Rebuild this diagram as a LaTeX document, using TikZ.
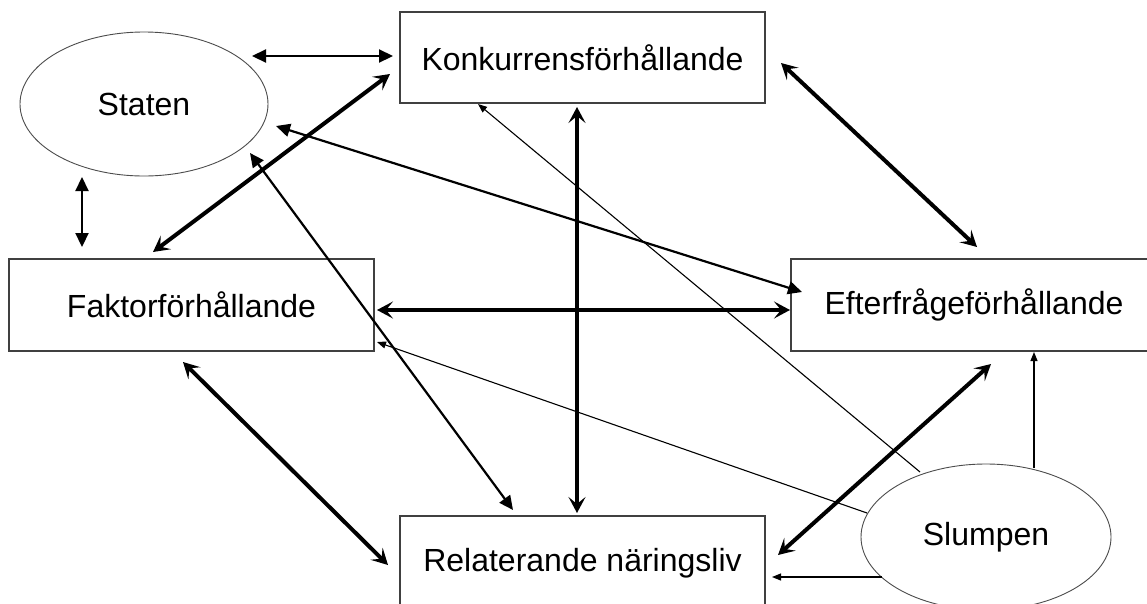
\documentclass[tikz,border=0pt]{standalone}
\usepackage{fontspec}
\setmainfont{Liberation Sans}
\usetikzlibrary{arrows.meta,shapes.geometric}
\tikzset{
  box/.style={draw=black!75,line width=1.3pt,rectangle,inner sep=0pt,font=\fontsize{32}{38}\selectfont},
  oval/.style={draw=black!70,line width=0.9pt,ellipse,inner sep=0pt,font=\fontsize{32}{38}\selectfont},
  thickarr/.style={line width=4pt,{Stealth[length=16pt,width=17pt,inset=7pt]}-{Stealth[length=16pt,width=17pt,inset=7pt]}},
  medarr/.style={line width=2.2pt,{Triangle[length=14pt,width=13pt]}-{Triangle[length=14pt,width=13pt]}},
  thinarr/.style={line width=1.1pt,-{Triangle[length=9pt,width=7pt]}}
}
\begin{document}
\begin{tikzpicture}[x=1pt,y=-1pt]
\clip (0,0) rectangle (1147,603);
\fill[white] (0,0) rectangle (1147,603);
% nodes
\node[oval,minimum width=248pt,minimum height=144pt] (st) at (144,104) {Staten};
\node[box,minimum width=365pt,minimum height=91pt] (ko) at (582.5,57.5) {Konkurrensförhållande};
\node[box,minimum width=365pt,minimum height=92pt] (fa) at (191.5,305) {Faktorförhållande};
\node[box,minimum width=361pt,minimum height=92pt,text width=361pt,align=center] (ef) at (971.5,305) {\hspace*{5pt}Efterfrågeförhållande};
\node[box,minimum width=365pt,minimum height=94pt] (re) at (582.5,563) {Relaterande näringsliv};
\node[oval,fill=white,minimum width=250pt,minimum height=146pt] (sl) at (986,537) {Slumpen};
% connectors
\draw[medarr] ([shift={(108,-48)}]st.center) -- ([shift={(-189.5,-1.5)}]ko.center);
\draw[medarr] ([shift={(-62,73)}]st.center) -- ([shift={(-109.5,-58)}]fa.center);
\draw[thickarr] ([shift={(-38.5,-53)}]fa.center) -- ([shift={(-192.5,16.5)}]ko.center);
\draw[medarr] ([shift={(132,22)}]st.center) -- ([shift={(-169.5,-13)}]ef.center);
\draw[medarr] ([shift={(106,49)}]st.center) -- ([shift={(-69.5,-53)}]re.center);
\draw[thickarr] ([shift={(-5.5,49.5)}]ko.center) -- ([shift={(-5.5,-50)}]re.center);
\draw[thickarr] ([shift={(185.5,5)}]fa.center) -- ([shift={(-181.5,5)}]ef.center);
\draw[thickarr] ([shift={(198.5,5.5)}]ko.center) -- ([shift={(5.5,-58)}]ef.center);
\draw[thickarr] ([shift={(-8.5,57)}]fa.center) -- ([shift={(-194.5,2)}]re.center);
\draw[thickarr] ([shift={(195.5,-8)}]re.center) -- ([shift={(19.5,59)}]ef.center);
\draw[thinarr] ([shift={(-66,-65)}]sl.center) -- ([shift={(-104.5,46.5)}]ko.center);
\draw[thinarr] ([shift={(-119,-24)}]sl.center) -- ([shift={(185.5,37)}]fa.center);
\draw[thinarr] ([shift={(-104,40)}]sl.center) -- ([shift={(189.5,14)}]re.center);
\draw[thinarr] ([shift={(48,-69)}]sl.center) -- ([shift={(62.5,47)}]ef.center);
\end{tikzpicture}
\end{document}
